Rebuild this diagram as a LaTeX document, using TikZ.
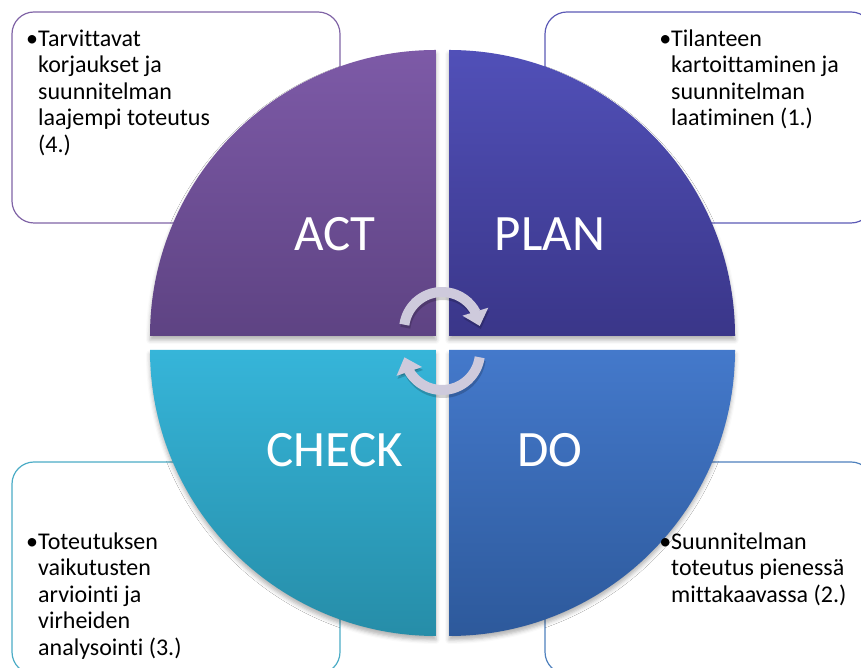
\documentclass[tikz,border=0pt]{standalone}
\usepackage{fontspec}
\setmainfont{Carlito}[Ligatures={NoCommon}]
\usetikzlibrary{arrows.meta,bending,shadows.blur}

\definecolor{actTop}{RGB}{125,90,167}
\definecolor{actBot}{RGB}{94,67,131}
\definecolor{planTop}{RGB}{81,80,184}
\definecolor{planBot}{RGB}{58,54,137}
\definecolor{checkTop}{RGB}{54,181,217}
\definecolor{checkBot}{RGB}{38,141,168}
\definecolor{doTop}{RGB}{68,121,203}
\definecolor{doBot}{RGB}{45,89,155}
\definecolor{actLine}{RGB}{128,100,166}
\definecolor{planLine}{RGB}{92,90,182}
\definecolor{checkLine}{RGB}{75,172,198}
\definecolor{doLine}{RGB}{79,129,189}
\definecolor{cycleGray}{RGB}{206,202,220}

\tikzset{
  infobox/.style={line width=1.2pt, rounded corners=22pt, fill=white},
  infotext/.style={anchor=north west, inner sep=0pt, align=left,
    font=\fontsize{24}{26.5}\selectfont},
  quarter/.style={blur shadow={shadow xshift=0pt, shadow yshift=-4pt,
    shadow blur radius=4pt, shadow opacity=30}},
  phase/.style={text=white, inner sep=0pt, font=\fontsize{51}{58}\selectfont},
  cyclearrow/.style={draw=cycleGray, line width=10pt,
    -{Triangle[width=26pt,length=15pt]}},
  cycleshadow/.style={draw=black, opacity=.18, line width=10pt,
    -{Triangle[width=26pt,length=15pt]}}
}

\begin{document}
\begin{tikzpicture}[x=1pt,y=1pt]
  \useasboundingbox (0,0) rectangle (861,668);

  \draw[infobox,draw=actLine] (12,445) rectangle (340,656);
  \draw[infobox,draw=planLine] (545,445) rectangle (873,656);
  \draw[infobox,draw=checkLine] (12,-6) rectangle (340,206);
  \draw[infobox,draw=doLine] (545,-6) rectangle (873,206);

  \shade[quarter,top color=actTop,bottom color=actBot]
    (436,332) -- (150,332) arc[start angle=180,end angle=90,radius=286pt] -- cycle;
  \shade[quarter,top color=planTop,bottom color=planBot]
    (449,332) -- (449,618) arc[start angle=90,end angle=0,radius=286pt] -- cycle;
  \shade[quarter,top color=checkTop,bottom color=checkBot]
    (436,318) -- (150,318) arc[start angle=180,end angle=270,radius=286pt] -- cycle;
  \shade[quarter,top color=doTop,bottom color=doBot]
    (449,318) -- (735,318) arc[start angle=0,end angle=-90,radius=286pt] -- cycle;

  \draw[cycleshadow,shift={(1,-3)}] (442,338) ++(172:38) arc[start angle=172,end angle=6,radius=38pt];
  \draw[cycleshadow,shift={(1,-3)}] (442,316) ++(-8:38) arc[start angle=-8,end angle=-172,radius=38pt];
  \draw[cyclearrow] (442,338) ++(172:38) arc[start angle=172,end angle=6,radius=38pt];
  \draw[cyclearrow] (442,316) ++(-8:38) arc[start angle=-8,end angle=-172,radius=38pt];

  \node[phase] (act) at (335,434) {ACT};
  \node[phase] (plan) at (550,434) {PLAN};
  \node[phase] (check) at (335,218) {CHECK};
  \node[phase] (do) at (550,218) {DO};

  \node[infotext] (korjaus) at (38,640.5) {\strut\llap{\textbullet}Tarvittavat\\korjaukset ja\\suunnitelman\\laajempi toteutus\\(4.)};
  \node[infotext] (kartoitus) at (671,640.5) {\strut\llap{\textbullet}Tilanteen\\kartoittaminen ja\\suunnitelman\\laatiminen (1.)};
  \node[infotext] (arviointi) at (38,137.5) {\strut\llap{\textbullet}Toteutuksen\\vaikutusten\\arviointi ja\\virheiden\\analysointi (3.)};
  \node[infotext] (toteutus) at (671,137.5) {\strut\llap{\textbullet}Suunnitelman\\toteutus pienessä\\mittakaavassa (2.)};
\end{tikzpicture}
\end{document}
